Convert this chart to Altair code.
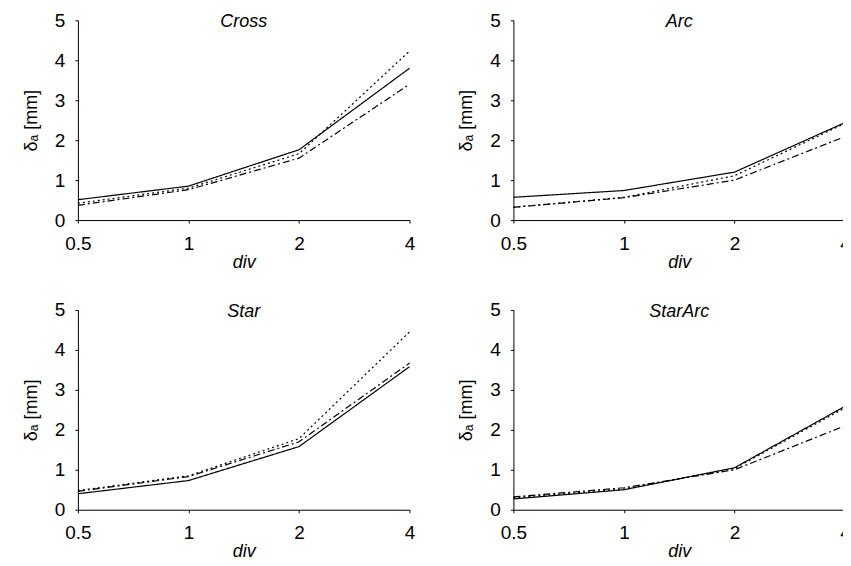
import altair as alt
import pandas as pd

divs = [0.5, 1, 2, 4]
panels = ["Cross", "Arc", "Star", "StarArc"]
series = ["solid", "dotted", "dashdot"]

cross_solid = [0.51, 0.85, 1.76, 3.80]
cross_dotted = [0.42, 0.80, 1.66, 4.23]
cross_dashdot = [0.37, 0.76, 1.55, 3.40]

arc_solid = [0.57, 0.74, 1.20, 2.44]
arc_dotted = [0.32, 0.57, 1.11, 2.42]
arc_dashdot = [0.32, 0.56, 1.00, 2.09]

star_solid = [0.40, 0.73, 1.58, 3.58]
star_dotted = [0.48, 0.85, 1.78, 4.45]
star_dashdot = [0.46, 0.83, 1.70, 3.67]

stararc_solid = [0.27, 0.50, 1.05, 2.59]
stararc_dotted = [0.30, 0.52, 1.03, 2.55]
stararc_dashdot = [0.32, 0.55, 1.00, 2.10]

values = {
    "Cross": [cross_solid, cross_dotted, cross_dashdot],
    "Arc": [arc_solid, arc_dotted, arc_dashdot],
    "Star": [star_solid, star_dotted, star_dashdot],
    "StarArc": [stararc_solid, stararc_dotted, stararc_dashdot],
}

rows = []
for p in panels:
    for s, vals in zip(series, values[p]):
        for d, v in zip(divs, vals):
            rows.append({"panel": p, "series": s, "div": d, "value": v})
df = pd.DataFrame(rows)

FONT = "Liberation Sans"
W = 332
H = 200


def panel(name):
    lines = (
        alt.Chart(df)
        .transform_filter(alt.datum.panel == name)
        .mark_line(color="black", strokeWidth=1.2)
        .encode(
            x=alt.X(
                "div:Q",
                scale=alt.Scale(type="log", base=2, domain=[0.5, 4], nice=False),
                axis=alt.Axis(
                    values=divs, format="~g", title="div", titleFontStyle="italic",
                    labelFlush=False, titlePadding=0, labelPadding=11,
                ),
            ),
            y=alt.Y(
                "value:Q",
                scale=alt.Scale(domain=[0, 5], nice=False),
                axis=alt.Axis(values=[0, 1, 2, 3, 4, 5], title="δₐ [mm]",
                              titlePadding=14, labelPadding=10),
            ),
            strokeDash=alt.StrokeDash(
                "series:N",
                scale=alt.Scale(domain=series, range=[[1, 0], [2, 3], [7, 3, 2, 3]]),
                legend=None,
            ),
            detail="series:N",
            order="div:Q",
        )
    )
    title = (
        alt.Chart(pd.DataFrame({"name": [name]}))
        .mark_text(font=FONT, fontSize=18, fontStyle="italic", color="black",
                   baseline="alphabetic", align="center")
        .encode(text="name:N", x=alt.value(W / 2), y=alt.value(7))
    )
    return alt.layer(lines, title).properties(width=W, height=H)


chart = (
    alt.vconcat(
        alt.hconcat(panel("Cross"), panel("Arc"), spacing=42),
        alt.hconcat(panel("Star"), panel("StarArc"), spacing=42),
        spacing=30,
        padding={"left": 14, "top": 3, "right": -8, "bottom": 0},
    )
    .configure_view(stroke=None)
    .configure_axis(
        grid=False,
        domainColor="black",
        tickColor="black",
        tickSize=3,
        labelFont=FONT,
        labelFontSize=19,
        labelColor="black",
        titleFont=FONT,
        titleFontSize=18,
        titleFontWeight="normal",
        titleColor="black",
    )
)

chart.save("out.html", embed_options={"renderer": "svg", "actions": False})
